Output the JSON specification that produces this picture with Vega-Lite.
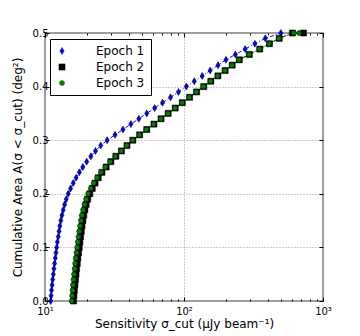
{
  "$schema": "https://vega.github.io/schema/vega-lite/v6.json",
  "width": 278,
  "height": 268,
  "autosize": "none",
  "padding": {"left": 45, "top": 33, "right": 37, "bottom": 35},
  "config": {
    "font": "DejaVu Sans",
    "view": {"stroke": "#808080", "strokeWidth": 1.5},
    "axis": {"labelColor": "black", "titleColor": "black", "tickColor": "black", "titleFontWeight": "normal", "labelFontSize": 10, "titleFontSize": 12, "labelFlush": false},
    "legend": {"symbolStrokeWidth": 0.5, "symbolStrokeColor": "black", "symbolOpacity": 1, "labelFontSize": 12, "labelColor": "black", "strokeColor": "black", "fillColor": "white", "padding": 6, "rowPadding": 4, "labelOffset": 28}
  },
  "datasets": {
    "d": [
      {"epoch":"Epoch 1","area":0.00,"sens":10.99},{"epoch":"Epoch 1","area":0.01,"sens":11.07},{"epoch":"Epoch 1","area":0.02,"sens":11.14},{"epoch":"Epoch 1","area":0.03,"sens":11.25},{"epoch":"Epoch 1","area":0.04,"sens":11.35},{"epoch":"Epoch 1","area":0.05,"sens":11.48},{"epoch":"Epoch 1","area":0.06,"sens":11.59},{"epoch":"Epoch 1","area":0.07,"sens":11.72},{"epoch":"Epoch 1","area":0.08,"sens":11.86},{"epoch":"Epoch 1","area":0.09,"sens":12.00},
      {"epoch":"Epoch 1","area":0.10,"sens":12.13},{"epoch":"Epoch 1","area":0.11,"sens":12.27},{"epoch":"Epoch 1","area":0.12,"sens":12.45},{"epoch":"Epoch 1","area":0.13,"sens":12.62},{"epoch":"Epoch 1","area":0.14,"sens":12.79},{"epoch":"Epoch 1","area":0.15,"sens":13.00},{"epoch":"Epoch 1","area":0.16,"sens":13.24},{"epoch":"Epoch 1","area":0.17,"sens":13.52},{"epoch":"Epoch 1","area":0.18,"sens":13.84},{"epoch":"Epoch 1","area":0.19,"sens":14.22},
      {"epoch":"Epoch 1","area":0.20,"sens":14.69},{"epoch":"Epoch 1","area":0.21,"sens":15.28},{"epoch":"Epoch 1","area":0.22,"sens":15.96},{"epoch":"Epoch 1","area":0.23,"sens":16.75},{"epoch":"Epoch 1","area":0.24,"sens":17.66},{"epoch":"Epoch 1","area":0.25,"sens":18.71},{"epoch":"Epoch 1","area":0.26,"sens":19.95},{"epoch":"Epoch 1","area":0.27,"sens":21.38},{"epoch":"Epoch 1","area":0.28,"sens":23.07},{"epoch":"Epoch 1","area":0.29,"sens":25.18},
      {"epoch":"Epoch 1","area":0.30,"sens":27.99},{"epoch":"Epoch 1","area":0.31,"sens":31.92},{"epoch":"Epoch 1","area":0.32,"sens":36.39},{"epoch":"Epoch 1","area":0.33,"sens":41.49},{"epoch":"Epoch 1","area":0.34,"sens":47.31},{"epoch":"Epoch 1","area":0.35,"sens":53.95},{"epoch":"Epoch 1","area":0.36,"sens":61.51},{"epoch":"Epoch 1","area":0.37,"sens":70.14},{"epoch":"Epoch 1","area":0.38,"sens":79.98},{"epoch":"Epoch 1","area":0.39,"sens":91.20},
      {"epoch":"Epoch 1","area":0.40,"sens":104.0},{"epoch":"Epoch 1","area":0.41,"sens":118.6},{"epoch":"Epoch 1","area":0.42,"sens":135.2},{"epoch":"Epoch 1","area":0.43,"sens":154.2},{"epoch":"Epoch 1","area":0.44,"sens":175.8},{"epoch":"Epoch 1","area":0.45,"sens":200.4},{"epoch":"Epoch 1","area":0.46,"sens":234.4},{"epoch":"Epoch 1","area":0.47,"sens":275.4},{"epoch":"Epoch 1","area":0.48,"sens":323.6},{"epoch":"Epoch 1","area":0.49,"sens":384.6},
      {"epoch":"Epoch 1","area":0.50,"sens":497.7},
      {"epoch":"Epoch 2","area":0.00,"sens":16.03},{"epoch":"Epoch 2","area":0.01,"sens":16.14},{"epoch":"Epoch 2","area":0.02,"sens":16.26},{"epoch":"Epoch 2","area":0.03,"sens":16.41},{"epoch":"Epoch 2","area":0.04,"sens":16.56},{"epoch":"Epoch 2","area":0.05,"sens":16.71},{"epoch":"Epoch 2","area":0.06,"sens":16.87},{"epoch":"Epoch 2","area":0.07,"sens":17.06},{"epoch":"Epoch 2","area":0.08,"sens":17.22},{"epoch":"Epoch 2","area":0.09,"sens":17.42},
      {"epoch":"Epoch 2","area":0.10,"sens":17.62},{"epoch":"Epoch 2","area":0.11,"sens":17.82},{"epoch":"Epoch 2","area":0.12,"sens":18.03},{"epoch":"Epoch 2","area":0.13,"sens":18.24},{"epoch":"Epoch 2","area":0.14,"sens":18.45},{"epoch":"Epoch 2","area":0.15,"sens":18.71},{"epoch":"Epoch 2","area":0.16,"sens":19.01},{"epoch":"Epoch 2","area":0.17,"sens":19.36},{"epoch":"Epoch 2","area":0.18,"sens":19.77},{"epoch":"Epoch 2","area":0.19,"sens":20.28},
      {"epoch":"Epoch 2","area":0.20,"sens":20.99},{"epoch":"Epoch 2","area":0.21,"sens":21.88},{"epoch":"Epoch 2","area":0.22,"sens":22.91},{"epoch":"Epoch 2","area":0.23,"sens":24.16},{"epoch":"Epoch 2","area":0.24,"sens":25.70},{"epoch":"Epoch 2","area":0.25,"sens":27.54},{"epoch":"Epoch 2","area":0.26,"sens":29.79},{"epoch":"Epoch 2","area":0.27,"sens":32.36},{"epoch":"Epoch 2","area":0.28,"sens":35.48},{"epoch":"Epoch 2","area":0.29,"sens":38.90},
      {"epoch":"Epoch 2","area":0.30,"sens":42.86},{"epoch":"Epoch 2","area":0.31,"sens":47.97},{"epoch":"Epoch 2","area":0.32,"sens":53.95},{"epoch":"Epoch 2","area":0.33,"sens":60.82},{"epoch":"Epoch 2","area":0.34,"sens":68.39},{"epoch":"Epoch 2","area":0.35,"sens":76.91},{"epoch":"Epoch 2","area":0.36,"sens":86.49},{"epoch":"Epoch 2","area":0.37,"sens":97.28},{"epoch":"Epoch 2","area":0.38,"sens":109.7},{"epoch":"Epoch 2","area":0.39,"sens":123.3},
      {"epoch":"Epoch 2","area":0.40,"sens":138.7},{"epoch":"Epoch 2","area":0.41,"sens":155.9},{"epoch":"Epoch 2","area":0.42,"sens":175.4},{"epoch":"Epoch 2","area":0.43,"sens":197.7},{"epoch":"Epoch 2","area":0.44,"sens":222.3},{"epoch":"Epoch 2","area":0.45,"sens":250.0},{"epoch":"Epoch 2","area":0.46,"sens":295.1},{"epoch":"Epoch 2","area":0.47,"sens":350.8},{"epoch":"Epoch 2","area":0.48,"sens":412.1},{"epoch":"Epoch 2","area":0.49,"sens":484.2},
      {"epoch":"Epoch 2","area":0.50,"sens":602.6},{"epoch":"Epoch 2","area":0.50,"sens":724.4},
      {"epoch":"Epoch 3","area":0.00,"sens":15.56},{"epoch":"Epoch 3","area":0.01,"sens":15.67},{"epoch":"Epoch 3","area":0.02,"sens":15.78},{"epoch":"Epoch 3","area":0.03,"sens":15.89},{"epoch":"Epoch 3","area":0.04,"sens":16.03},{"epoch":"Epoch 3","area":0.05,"sens":16.18},{"epoch":"Epoch 3","area":0.06,"sens":16.33},{"epoch":"Epoch 3","area":0.07,"sens":16.48},{"epoch":"Epoch 3","area":0.08,"sens":16.63},{"epoch":"Epoch 3","area":0.09,"sens":16.83},
      {"epoch":"Epoch 3","area":0.10,"sens":17.02},{"epoch":"Epoch 3","area":0.11,"sens":17.22},{"epoch":"Epoch 3","area":0.12,"sens":17.42},{"epoch":"Epoch 3","area":0.13,"sens":17.62},{"epoch":"Epoch 3","area":0.14,"sens":17.87},{"epoch":"Epoch 3","area":0.15,"sens":18.11},{"epoch":"Epoch 3","area":0.16,"sens":18.41},{"epoch":"Epoch 3","area":0.17,"sens":18.79},{"epoch":"Epoch 3","area":0.18,"sens":19.23},{"epoch":"Epoch 3","area":0.19,"sens":19.77},
      {"epoch":"Epoch 3","area":0.20,"sens":20.47},{"epoch":"Epoch 3","area":0.21,"sens":21.38},{"epoch":"Epoch 3","area":0.22,"sens":22.44},{"epoch":"Epoch 3","area":0.23,"sens":23.71},{"epoch":"Epoch 3","area":0.24,"sens":25.29},{"epoch":"Epoch 3","area":0.25,"sens":27.16},{"epoch":"Epoch 3","area":0.26,"sens":29.44},{"epoch":"Epoch 3","area":0.27,"sens":32.06},{"epoch":"Epoch 3","area":0.28,"sens":35.24},{"epoch":"Epoch 3","area":0.29,"sens":38.73},
      {"epoch":"Epoch 3","area":0.30,"sens":42.76},{"epoch":"Epoch 3","area":0.31,"sens":47.75},{"epoch":"Epoch 3","area":0.32,"sens":53.70},{"epoch":"Epoch 3","area":0.33,"sens":60.54},{"epoch":"Epoch 3","area":0.34,"sens":68.07},{"epoch":"Epoch 3","area":0.35,"sens":76.55},{"epoch":"Epoch 3","area":0.36,"sens":86.09},{"epoch":"Epoch 3","area":0.37,"sens":96.83},{"epoch":"Epoch 3","area":0.38,"sens":109.1},{"epoch":"Epoch 3","area":0.39,"sens":122.7},
      {"epoch":"Epoch 3","area":0.40,"sens":138.0},{"epoch":"Epoch 3","area":0.41,"sens":155.2},{"epoch":"Epoch 3","area":0.42,"sens":174.6},{"epoch":"Epoch 3","area":0.43,"sens":196.8},{"epoch":"Epoch 3","area":0.44,"sens":221.3},{"epoch":"Epoch 3","area":0.45,"sens":248.9},{"epoch":"Epoch 3","area":0.46,"sens":293.7},{"epoch":"Epoch 3","area":0.47,"sens":349.2},{"epoch":"Epoch 3","area":0.48,"sens":410.2},{"epoch":"Epoch 3","area":0.49,"sens":482.0},
      {"epoch":"Epoch 3","area":0.50,"sens":616.6},{"epoch":"Epoch 3","area":0.50,"sens":673.0}
    ]
  },
  "resolve": {"axis": {"x": "independent", "y": "independent"}},
  "layer": [
    {
      "data": {"name": "d"},
      "mark": {"type": "line", "strokeWidth": 1, "strokeDash": [4, 2, 1, 2]},
      "encoding": {
        "x": {"field": "sens", "type": "quantitative", "scale": {"type": "log", "domain": [10, 1000], "nice": false},
          "axis": {"orient": "bottom", "values": [10, 100, 1000], "labelExpr": "datum.value == 10 ? '10¹' : datum.value == 100 ? '10²' : '10³'", "grid": true, "gridColor": "#999999", "gridDash": [1, 2], "gridWidth": 1, "tickSize": -4, "domain": false, "labelPadding": 9, "title": "Sensitivity σ_cut (μJy beam⁻¹)", "titlePadding": 2}},
        "y": {"field": "area", "type": "quantitative", "scale": {"domain": [0, 0.5], "nice": false},
          "axis": {"orient": "left", "values": [0, 0.1, 0.2, 0.3, 0.4, 0.5], "format": ".1f", "grid": true, "gridColor": "#999999", "gridDash": [1, 2], "gridWidth": 1, "tickSize": -4, "domain": false, "labelPadding": 1, "title": "Cumulative Area A(σ < σ_cut) (deg²)", "titlePadding": 8}},
        "color": {"field": "epoch", "type": "nominal", "scale": {"domain": ["Epoch 1", "Epoch 2", "Epoch 3"], "range": ["#0000ff", "#000000", "#008000"]},
          "legend": {"title": null, "orient": "none", "legendX": 5, "legendY": 6}},
        "order": {"field": "area", "type": "quantitative"}
      }
    },
    {
      "data": {"name": "d"},
      "mark": {"type": "point", "filled": true, "opacity": 1, "stroke": "black", "strokeWidth": 0.5},
      "encoding": {
        "x": {"field": "sens", "type": "quantitative",
          "axis": {"orient": "bottom", "values": [20, 30, 40, 50, 60, 70, 80, 90, 200, 300, 400, 500, 600, 700, 800, 900], "labels": false, "grid": false, "domain": false, "tickSize": -2, "title": null}},
        "y": {"field": "area", "type": "quantitative",
          "axis": {"orient": "right", "values": [0, 0.1, 0.2, 0.3, 0.4, 0.5], "labels": false, "grid": false, "domain": false, "tickSize": -4, "title": null}},
        "color": {"field": "epoch", "type": "nominal",
          "legend": {"title": null, "orient": "none", "legendX": 5, "legendY": 6}},
        "shape": {"field": "epoch", "type": "nominal", "scale": {"domain": ["Epoch 1", "Epoch 2", "Epoch 3"], "range": ["M0,-1L0.6,0L0,1L-0.6,0Z", "square", "circle"]}},
        "size": {"field": "epoch", "type": "ordinal", "scale": {"domain": ["Epoch 1", "Epoch 2", "Epoch 3"], "range": [49, 25, 9]}}
      }
    },
    {
      "data": {"values": []},
      "mark": "point",
      "encoding": {
        "x": {"field": "sens", "type": "quantitative",
          "axis": {"orient": "top", "values": [10, 100, 1000], "labels": false, "grid": false, "domain": false, "tickSize": -4, "title": null}}
      }
    },
    {
      "data": {"values": []},
      "mark": "point",
      "encoding": {
        "x": {"field": "sens", "type": "quantitative",
          "axis": {"orient": "top", "values": [20, 30, 40, 50, 60, 70, 80, 90, 200, 300, 400, 500, 600, 700, 800, 900], "labels": false, "grid": false, "domain": false, "tickSize": -2, "title": null}}
      }
    }
  ]
}
